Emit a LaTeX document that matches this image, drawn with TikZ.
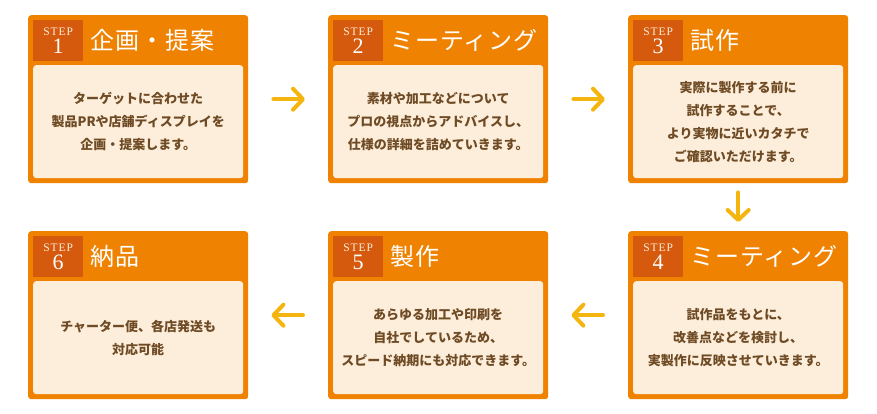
\documentclass[tikz,border=0pt]{standalone}
\usepackage{fontspec}
\setmainfont{Liberation Serif}
\newfontfamily\jp{Noto Sans CJK JP}
\usetikzlibrary{arrows.meta}
\definecolor{cOrange}{HTML}{EF8200}
\definecolor{cBadge}{HTML}{D65A0E}
\definecolor{cCream}{HTML}{FDEEDB}
\definecolor{cBrown}{HTML}{6E4B24}
\definecolor{cArrow}{HTML}{F4B50F}

\begin{document}
\begin{tikzpicture}[
  x=1pt, y=-1pt,
  >={Straight Barb[length=10pt, width=21pt, round]},
  frame/.style={fill=cOrange, rounded corners=3pt, anchor=north west,
                minimum width=220pt, minimum height=168pt, inner sep=0pt},
  body/.style={fill=cCream, rounded corners=3pt, anchor=north west,
               minimum width=210pt, minimum height=113pt, inner sep=0pt,
               align=center, text=cBrown,
               font=\jp\bfseries\fontsize{13}{23}\selectfont},
  badge/.style={fill=cBadge, anchor=north west, minimum width=50pt,
                minimum height=41pt, inner sep=0pt, align=center, text=white,
                font=\fontsize{11.5}{18}\selectfont},
  title/.style={anchor=west, inner sep=0pt, text=white,
                font=\jp\addfontfeature{LetterSpace=4}\fontsize{24}{24}\selectfont},
  flow/.style={->, line width=4pt, color=cArrow, line cap=round},
]
  \useasboundingbox (0,0) rectangle (877,414);

  % --- the six steps ---
  \foreach \i/\x/\y/\ttl/\txt in {
      1/28/15/{企画・提案}/{ターゲットに合わせた\\製品PRや店舗ディスプレイを\\企画・提案します。},
      2/328/15/{ミーティング}/{素材や加工などについて\\プロの視点からアドバイスし、\\仕様の詳細を詰めていきます。},
      3/628/15/{試作}/{実際に製作する前に\\試作することで、\\より実物に近いカタチで\\ご確認いただけます。},
      4/628/231/{ミーティング}/{試作品をもとに、\\改善点などを検討し、\\実製作に反映させていきます。},
      5/328/231/{製作}/{あらゆる加工や印刷を\\自社でしているため、\\スピード納期にも対応できます。},
      6/28/231/{納品}/{チャーター便、各店発送も\\対応可能}%
  }{
    \node[frame] (s\i) at (\x,\y) {};
    \node[badge] (k\i) at (\x+5,\y+5)
      {{\addfontfeature{LetterSpace=8}\textcolor{cCream}{STEP}}\\
       {\fontsize{22}{18}\selectfont \i}};
    \node[title] (t\i) at (\x+62,\y+25) {\ttl};
    \node[body] (b\i) at (\x+5,\y+50) {\txt};
  }

  % --- arrows between steps ---
  \foreach \i/\j in {1/2,2/3,4/5,5/6}{
    \draw[flow, shorten <=25pt, shorten >=23pt] (s\i) -- (s\j);
  }
  \draw[flow, shorten <=9pt, shorten >=9pt] (s3) -- (s4);
\end{tikzpicture}
\end{document}
